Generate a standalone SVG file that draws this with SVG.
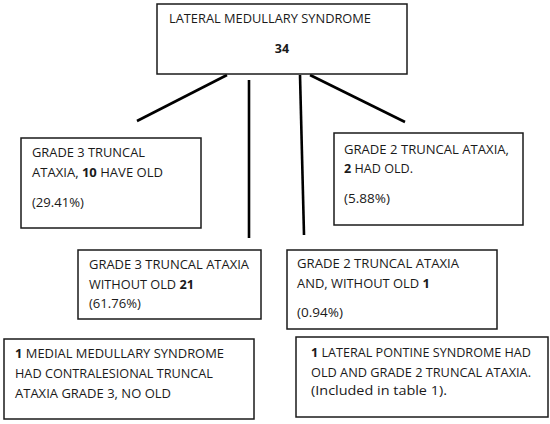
<svg xmlns="http://www.w3.org/2000/svg" width="550" height="424" viewBox="0 0 550 424">
<style>
.box{fill:#fff;stroke:#1a1a1a;stroke-width:1.5}
text{font-family:"Open Sans","Liberation Sans",sans-serif;font-size:12.5px;fill:#1a1a1a}
.b{font-weight:bold}
.ln{stroke:#000;stroke-width:2.6;fill:none;stroke-linecap:butt}
</style>
<rect width="550" height="424" fill="#fff"/>
<g id="connectors">
<line class="ln" x1="227" y1="75" x2="137" y2="121"/>
<line class="ln" x1="249" y1="80" x2="249" y2="238" stroke-width="3"/>
<line class="ln" x1="300" y1="75" x2="304" y2="235"/>
<line class="ln" x1="310" y1="75" x2="405" y2="122"/>
</g>
<g id="n_lms">
<rect class="box" x="157" y="4" width="250" height="70"/>
<text x="169" y="23" textLength="202" lengthAdjust="spacingAndGlyphs">LATERAL MEDULLARY SYNDROME</text>
<text x="282" y="53" text-anchor="middle" class="b">34</text>
</g>
<g id="n_g3old">
<rect class="box" x="21" y="138" width="180" height="90"/>
<text x="32" y="157" textLength="113" lengthAdjust="spacingAndGlyphs">GRADE 3 TRUNCAL</text>
<text x="32" y="177" textLength="131" lengthAdjust="spacingAndGlyphs">ATAXIA, <tspan class="b">10</tspan> HAVE OLD</text>
<text x="32" y="207" textLength="52" lengthAdjust="spacingAndGlyphs">(29.41%)</text>
</g>
<g id="n_g2old">
<rect class="box" x="334" y="133" width="189" height="92"/>
<text x="344" y="154" textLength="165" lengthAdjust="spacingAndGlyphs">GRADE 2 TRUNCAL ATAXIA,</text>
<text x="344" y="173" textLength="69" lengthAdjust="spacingAndGlyphs"><tspan class="b">2</tspan> HAD OLD.</text>
<text x="344" y="203" textLength="46" lengthAdjust="spacingAndGlyphs">(5.88%)</text>
</g>
<g id="n_g3noold">
<rect class="box" x="78" y="250" width="183" height="69"/>
<text x="89" y="269" textLength="160" lengthAdjust="spacingAndGlyphs">GRADE 3 TRUNCAL ATAXIA</text>
<text x="89" y="289" textLength="105" lengthAdjust="spacingAndGlyphs">WITHOUT OLD <tspan class="b">21</tspan></text>
<text x="89" y="308" textLength="52" lengthAdjust="spacingAndGlyphs">(61.76%)</text>
</g>
<g id="n_g2noold">
<rect class="box" x="287" y="250" width="210" height="79"/>
<text x="297" y="268" textLength="162" lengthAdjust="spacingAndGlyphs">GRADE 2 TRUNCAL ATAXIA</text>
<text x="297" y="288" textLength="133" lengthAdjust="spacingAndGlyphs">AND, WITHOUT OLD <tspan class="b">1</tspan></text>
<text x="297" y="317" textLength="46" lengthAdjust="spacingAndGlyphs">(0.94%)</text>
</g>
<g id="n_medial">
<rect class="box" x="4" y="339" width="250" height="80"/>
<text x="15" y="358" textLength="209" lengthAdjust="spacingAndGlyphs"><tspan class="b">1</tspan> MEDIAL MEDULLARY SYNDROME</text>
<text x="15" y="378" textLength="198" lengthAdjust="spacingAndGlyphs">HAD CONTRALESIONAL TRUNCAL</text>
<text x="15" y="398" textLength="156" lengthAdjust="spacingAndGlyphs">ATAXIA GRADE 3, NO OLD</text>
</g>
<g id="n_pontine">
<rect class="box" x="296" y="337" width="252" height="80"/>
<text x="311" y="357" textLength="220" lengthAdjust="spacingAndGlyphs"><tspan class="b">1</tspan> LATERAL PONTINE SYNDROME HAD</text>
<text x="311" y="377" textLength="220" lengthAdjust="spacingAndGlyphs">OLD AND GRADE 2 TRUNCAL ATAXIA.</text>
<text x="311" y="395" textLength="136" lengthAdjust="spacingAndGlyphs">(Included in table 1).</text>
</g>
</svg>
